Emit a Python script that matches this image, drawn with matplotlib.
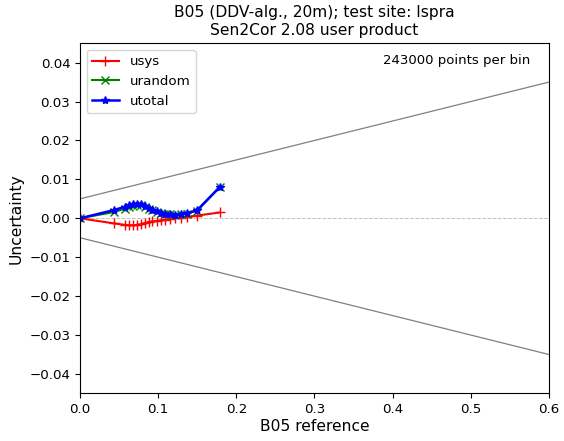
import matplotlib
matplotlib.use("Agg")
import matplotlib.pyplot as plt

# bin mean reference values
x_ref = [0.0, 0.043, 0.058, 0.063, 0.068, 0.073, 0.078, 0.083, 0.088, 0.092,
         0.098, 0.104, 0.109, 0.115, 0.121, 0.129, 0.137, 0.150, 0.179]
usys = [0.0, -0.0013, -0.0017, -0.0018, -0.0018, -0.0017, -0.0015, -0.0012,
        -0.0010, -0.0008, -0.0007, -0.0005, -0.0004, -0.0002, 0.0000, 0.0002,
        0.0004, 0.0007, 0.0015]
urandom = [0.0, 0.0016, 0.0025, 0.0029, 0.0032, 0.0034, 0.0033, 0.0030, 0.0025,
           0.0021, 0.0017, 0.0013, 0.0011, 0.0010, 0.0009, 0.0010, 0.0012,
           0.0020, 0.0080]
utotal = [0.0, 0.0021, 0.0030, 0.0034, 0.0037, 0.0038, 0.0036, 0.0032, 0.0027,
          0.0022, 0.0018, 0.0014, 0.0012, 0.0010, 0.0009, 0.0010, 0.0013,
          0.0021, 0.0081]

# requirement envelope: 0.005 + 5% of reference
env_x = [0.0, 0.6]
env_hi = [0.005, 0.035]
env_lo = [-0.005, -0.035]

fig, ax = plt.subplots(figsize=(5.64, 4.41), dpi=100)

ax.plot(env_x, env_hi, color="gray", linewidth=0.9)
ax.plot(env_x, env_lo, color="gray", linewidth=0.9)
ax.axhline(0, color="silver", linestyle="--", linewidth=0.7)

ax.plot(x_ref, usys, color="red", marker="+", markersize=7, label="usys")
ax.plot(x_ref, urandom, color="green", marker="x", markersize=6, label="urandom")
ax.plot(x_ref, utotal, color="blue", marker="*", markersize=6, linewidth=1.8,
        label="utotal")

ax.text(0.96, 0.95, "243000 points per bin", transform=ax.transAxes,
        ha="right", va="center", fontsize=9.5)

ax.set_xlim(0, 0.6)
ax.set_ylim(-0.045, 0.045)
ax.tick_params(labelsize=9.6)
ax.set_xlabel("B05 reference", fontsize=11.2, labelpad=2)
ax.set_ylabel("Uncertainty", fontsize=11.2, labelpad=4)
ax.set_title("B05 (DDV-alg., 20m); test site: Ispra\nSen2Cor 2.08 user product",
             fontsize=11.2)
ax.legend(loc="upper left", fontsize=9.6)

fig.subplots_adjust(left=0.142, right=0.973, top=0.902, bottom=0.108)
fig.savefig("out.png", dpi=100)
